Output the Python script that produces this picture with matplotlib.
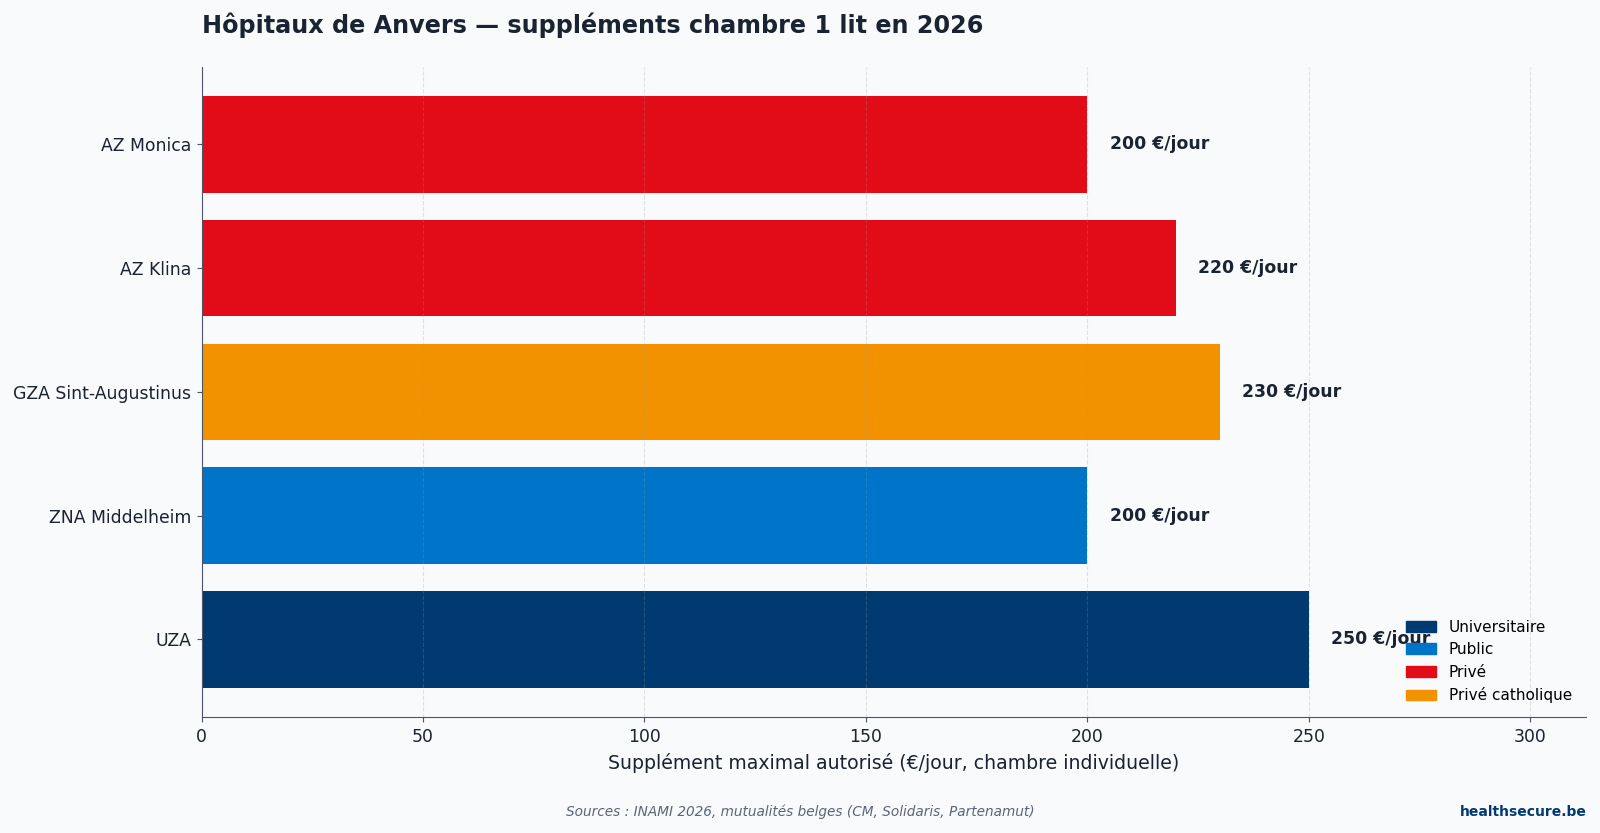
import matplotlib.pyplot as plt
from matplotlib.patches import Patch

plt.rcParams['font.family'] = ['DejaVu Sans']

# Data
hospitals = ['UZA', 'ZNA Middelheim', 'GZA Sint-Augustinus', 'AZ Klina', 'AZ Monica']
supplements = [250, 200, 230, 220, 200]
types = ['Universitaire', 'Public', 'Privé catholique', 'Privé', 'Privé']

type_colors = {
    'Universitaire': '#003a70',
    'Public': '#0074c8',
    'Privé': '#e20c18',
    'Privé catholique': '#f39200',
}
legend_order = ['Universitaire', 'Public', 'Privé', 'Privé catholique']

bg = '#f8fafc'
text_col = '#1a2332'

fig, ax = plt.subplots(figsize=(16, 8.33), dpi=100)
fig.patch.set_facecolor(bg)
ax.set_facecolor(bg)
fig.subplots_adjust(left=0.126, right=0.991, top=0.920, bottom=0.139)

bars = ax.barh(hospitals, supplements, height=0.78,
               color=[type_colors[t] for t in types], zorder=2)

# value labels
for bar, v in zip(bars, supplements):
    ax.text(v + 5, bar.get_y() + bar.get_height() / 2, f'{v} €/jour',
            va='center', ha='left', fontsize=12.4, fontweight='bold', color=text_col)

ax.set_xlim(0, 312.5)
ax.set_xlabel('Supplément maximal autorisé (€/jour, chambre individuelle)',
              fontsize=13.6, color=text_col, labelpad=5)
ax.tick_params(axis='both', labelsize=12.4, colors=text_col, pad=4)
ax.tick_params(axis='both', color='#4a5568')
ax.set_axisbelow(False)
ax.grid(axis='x', linestyle='--', color='#999999', alpha=0.25)
for s in ['top', 'right']:
    ax.spines[s].set_visible(False)
for s in ['left', 'bottom']:
    ax.spines[s].set_color('#4a5568')
    ax.spines[s].set_zorder(4)

ax.set_title('Hôpitaux de Anvers — suppléments chambre 1 lit en 2026',
             loc='left', fontsize=17.2, fontweight='bold', color=text_col, pad=24)

handles = [Patch(color=type_colors[t], label=t) for t in legend_order]
ax.legend(handles=handles, loc='lower right', frameon=False, fontsize=11)

fig.text(0.5, 0.02, 'Sources : INAMI 2026, mutualités belges (CM, Solidaris, Partenamut)',
         ha='center', fontsize=9.8, style='italic', color='#5a6678')
fig.text(0.992, 0.02, 'healthsecure.be', ha='right', fontsize=10,
         fontweight='bold', color='#003a70')

fig.savefig('out.png', dpi=100, facecolor=bg)
